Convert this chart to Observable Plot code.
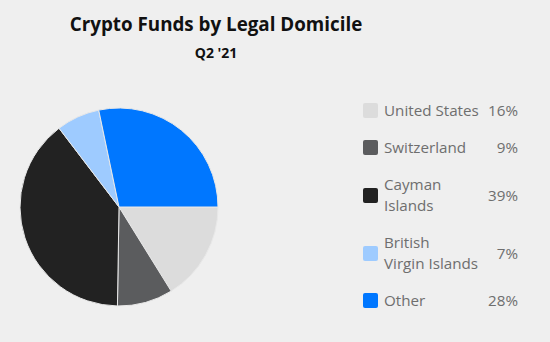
<!DOCTYPE html>
<html>
<head>
<meta charset="utf-8">
<script src="https://cdn.jsdelivr.net/npm/d3@7"></script>
<script src="https://cdn.jsdelivr.net/npm/@observablehq/plot@0.6"></script>
<style>
  html, body { margin: 0; padding: 0; background: #efefef; width: 550px; height: 342px; overflow: hidden; font-family: "Open Sans", sans-serif; }
  #wrap { position: relative; width: 550px; height: 342px; }
  #title { position: absolute; left: 0; width: 432px; top: 11px; text-align: center; font-weight: 700; font-size: 18.8px; color: #111; }
  #subtitle { position: absolute; left: 0; width: 432px; top: 43px; text-align: center; font-weight: 700; font-size: 14px; color: #111; }
  #chart { position: absolute; left: 0; top: 0; }
  #legend { position: absolute; left: 363px; top: 100px; width: 155px; font-size: 15.2px; color: #6e6e6e; line-height: 21px; }
  .row { display: flex; align-items: center; margin-bottom: 16px; }
  .sw { width: 15px; height: 15px; border-radius: 2px; flex: none; margin-right: 6px; }
  .lab { flex: 1; white-space: pre-line; }
  .pct { text-align: right; }
</style>
</head>
<body>
<div id="wrap">
  <div id="chart"></div>
  <div id="title">Crypto Funds by Legal Domicile</div>
  <div id="subtitle">Q2 '21</div>
  <div id="legend"></div>
</div>
<script>
const categories = ["United States", "Switzerland", "Cayman Islands", "British Virgin Islands", "Other"];
const legendLabels = ["United States", "Switzerland", "Cayman\nIslands", "British\nVirgin Islands", "Other"];
const values = [16, 9, 39, 7, 28];
const colors = ["#dcdcdc", "#5b5c5e", "#222222", "#9ecbff", "#0077ff"];

const data = categories.map((c, i) => ({category: c, value: values[i]}));
const pie = d3.pie().sort(null).value(d => d.value).startAngle(Math.PI / 2).endAngle(Math.PI / 2 + 2 * Math.PI);
const arcs = pie(data);

const pieMark = Plot.dot([{x: 0, y: 0}], {
  x: "x", y: "y",
  render(index, scales, values, dims, context) {
    const cx = scales.x(0), cy = scales.y(0);
    const r = Math.abs(scales.x(1) - scales.x(0));
    const color = scales.color;
    const arc = d3.arc().innerRadius(0).outerRadius(r);
    const g = d3.create("svg:g").attr("transform", `translate(${cx},${cy})`);
    g.selectAll("path").data(arcs).join("path")
      .attr("d", arc)
      .attr("fill", d => color(d.data.category))
      .attr("stroke", "#e8e8e8")
      .attr("stroke-width", 1);
    return g.node();
  }
});

const chart = Plot.plot({
  width: 550, height: 342,
  margin: 0,
  style: {background: "transparent"},
  x: {domain: [-1, 1], range: [20, 218], axis: null},
  y: {domain: [-1, 1], range: [306, 108], axis: null},
  color: {domain: categories, range: colors},
  marks: [pieMark]
});
document.getElementById("chart").appendChild(chart);

const legend = document.getElementById("legend");
categories.forEach((c, i) => {
  const row = document.createElement("div");
  row.className = "row";
  row.innerHTML = `<div class="sw" style="background:${colors[i]}"></div><div class="lab">${legendLabels[i]}</div><div class="pct">${values[i]}%</div>`;
  legend.appendChild(row);
});
</script>
</body>
</html>
